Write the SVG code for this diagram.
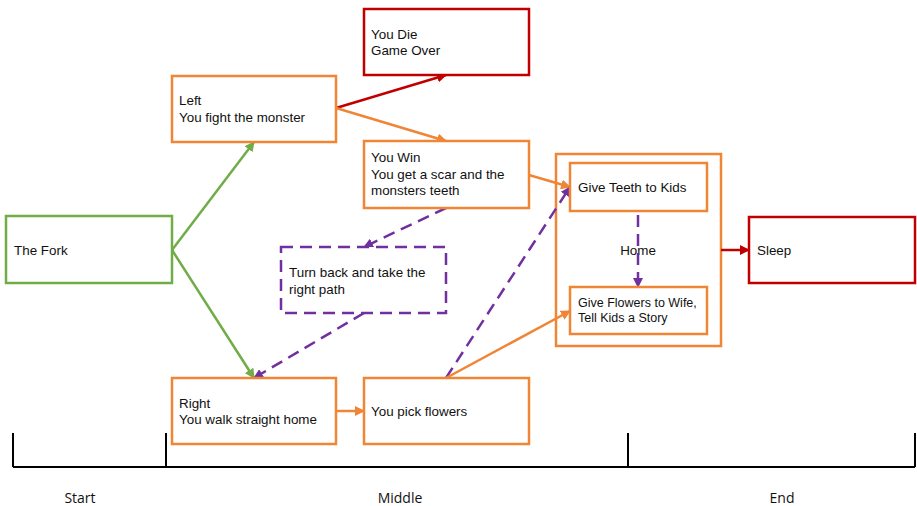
<svg xmlns="http://www.w3.org/2000/svg" width="917" height="506" viewBox="0 0 917 506">
  <style>
    .box { fill: #ffffff; stroke-width: 2.5; }
    .green { stroke: #70AD47; }
    .orange { stroke: #F08536; }
    .red { stroke: #C00000; }
    .purple { stroke: #7030A0; }
    .dash { stroke-dasharray: 12 7; }
    .lbl { font-family: "Liberation Sans", Arial, sans-serif; font-size: 13.4px; fill: #111; }
    .small { font-size: 12.5px; }
    .axis { stroke: #000; stroke-width: 2; fill: none; }
    .phase { font-family: "Open Sans", "Noto Sans", sans-serif; font-size: 14px; fill: #111; text-anchor: middle; }
    .edge { fill: none; stroke-width: 2.5; }
  </style>
  <defs>
    <marker id="ah-green" viewBox="0 0 10 10" refX="9" refY="5" markerWidth="4" markerHeight="4" orient="auto"><path d="M0,0 L10,5 L0,10 z" fill="#70AD47"/></marker>
    <marker id="ah-orange" viewBox="0 0 10 10" refX="9" refY="5" markerWidth="4" markerHeight="4" orient="auto"><path d="M0,0 L10,5 L0,10 z" fill="#F08536"/></marker>
    <marker id="ah-red" viewBox="0 0 10 10" refX="9" refY="5" markerWidth="4" markerHeight="4" orient="auto"><path d="M0,0 L10,5 L0,10 z" fill="#C00000"/></marker>
    <marker id="ah-purple" viewBox="0 0 10 10" refX="9" refY="5" markerWidth="4" markerHeight="4" orient="auto"><path d="M0,0 L10,5 L0,10 z" fill="#7030A0"/></marker>
  </defs>

  <!-- timeline -->
  <g id="timeline">
    <path class="axis" d="M13,467 H915 M13,433 V467 M166,433 V467 M628,433 V467 M915,433 V467"/>
    <text class="phase" x="80" y="503">Start</text>
    <text class="phase" x="400" y="503">Middle</text>
    <text class="phase" x="782" y="503">End</text>
  </g>

  <!-- home container -->
  <g id="home">
    <rect class="box orange" x="556" y="154" width="165" height="192"/>
    <text class="lbl" x="638" y="255" text-anchor="middle">Home</text>
  </g>

  <g id="connectors">
    <line class="edge green" x1="172" y1="250" x2="254" y2="142" marker-end="url(#ah-green)"/>
    <line class="edge green" x1="172" y1="250" x2="254" y2="378" marker-end="url(#ah-green)"/>
    <line class="edge red" x1="336" y1="108" x2="446" y2="75" marker-end="url(#ah-red)"/>
    <line class="edge orange" x1="336" y1="108" x2="446" y2="141" marker-end="url(#ah-orange)"/>
    <line class="edge purple dash" x1="446" y1="208" x2="364" y2="247" marker-end="url(#ah-purple)"/>
    <line class="edge purple dash" x1="364" y1="313" x2="254" y2="378" marker-end="url(#ah-purple)"/>
    <line class="edge orange" x1="336" y1="411" x2="364" y2="411" marker-end="url(#ah-orange)"/>
    <line class="edge orange" x1="529" y1="175" x2="570" y2="187" marker-end="url(#ah-orange)"/>
    <line class="edge purple dash" x1="446" y1="378" x2="570" y2="187" marker-end="url(#ah-purple)"/>
    <line class="edge orange" x1="446" y1="378" x2="570" y2="311" marker-end="url(#ah-orange)"/>
    <line class="edge purple dash" x1="638" y1="215" x2="638" y2="287" marker-end="url(#ah-purple)"/>
    <line class="edge red" x1="721" y1="250" x2="749" y2="250" marker-end="url(#ah-red)"/>
  </g>

  <g id="fork">
    <rect class="box green" x="6" y="216" width="166" height="67"/>
    <text class="lbl" x="14" y="255">The Fork</text>
  </g>
  <g id="left">
    <rect class="box orange" x="172" y="76" width="164" height="66"/>
    <text class="lbl" x="179" y="105">Left</text>
    <text class="lbl" x="179" y="122">You fight the monster</text>
  </g>
  <g id="die">
    <rect class="box red" x="364" y="9" width="165" height="66"/>
    <text class="lbl" x="371" y="39">You Die</text>
    <text class="lbl" x="371" y="55">Game Over</text>
  </g>
  <g id="win">
    <rect class="box orange" x="364" y="141" width="165" height="67"/>
    <text class="lbl" x="371" y="162">You Win</text>
    <text class="lbl" x="371" y="179">You get a scar and the</text>
    <text class="lbl" x="371" y="195">monsters teeth</text>
  </g>
  <g id="turnback">
    <rect class="box purple dash" x="281" y="247" width="165" height="66"/>
    <text class="lbl" x="289" y="277">Turn back and take the</text>
    <text class="lbl" x="289" y="294">right path</text>
  </g>
  <g id="right">
    <rect class="box orange" x="172" y="378" width="164" height="66"/>
    <text class="lbl" x="179" y="408">Right</text>
    <text class="lbl" x="179" y="424">You walk straight home</text>
  </g>
  <g id="flowers">
    <rect class="box orange" x="364" y="378" width="165" height="66"/>
    <text class="lbl" x="371" y="416">You pick flowers</text>
  </g>
  <g id="teeth">
    <rect class="box orange" x="570" y="163" width="137" height="48"/>
    <text class="lbl" x="578" y="192">Give Teeth to Kids</text>
  </g>
  <g id="wife">
    <rect class="box orange" x="570" y="287" width="137" height="47"/>
    <text class="lbl small" x="578" y="307">Give Flowers to Wife,</text>
    <text class="lbl small" x="578" y="322">Tell Kids a Story</text>
  </g>
  <g id="sleep">
    <rect class="box red" x="749" y="217" width="166" height="66"/>
    <text class="lbl" x="757" y="255">Sleep</text>
  </g>
</svg>
